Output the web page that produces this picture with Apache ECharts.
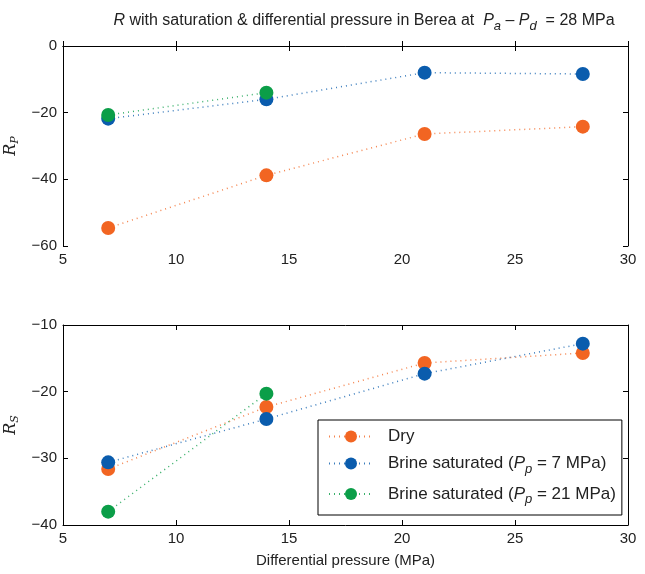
<!DOCTYPE html>
<html lang="en">
<head>
    <meta charset="UTF-8">
    <title>R with saturation & differential pressure in Berea</title>
    <script src="https://cdn.jsdelivr.net/npm/echarts@6/dist/echarts.min.js"></script>
    <style>
        html, body, #chart {
            width: 645px;
            height: 574px;
            padding: 0;
            margin: 0;
            background: #fff;
        }
    </style>
</head>
<body>
<div id="chart"></div>
<script>
    // differential pressure (MPa)
    var pressure = [7, 14, 21, 28];
    var pressureHigh = [7, 14];

    // R_P (top panel)
    var rpDry = [-54.6, -38.8, -26.4, -24.2];
    var rpBrine7 = [-21.8, -16.0, -8.0, -8.4];
    var rpBrine21 = [-20.7, -14.0];

    // R_S (bottom panel)
    var rsDry = [-31.6, -22.3, -15.7, -14.2];
    var rsBrine7 = [-30.6, -24.1, -17.3, -12.8];
    var rsBrine21 = [-38.0, -20.3];

    var names = ["Dry", "Brine saturated (Pp = 7 MPa)", "Brine saturated (Pp = 21 MPa)"];
    var colors = ["#f26522", "#0a5cad", "#0b9e48"];

    var font = "Liberation Sans";

    function pairs(xs, ys) {
        return xs.map(function (x, i) { return [x, ys[i]]; });
    }

    function minus(v) {
        return String(v).replace("-", "\u2212");
    }

    function makeSeries(name, idx, xs, ys, color) {
        return {
            name: name,
            type: "line",
            xAxisIndex: idx,
            yAxisIndex: idx,
            data: pairs(xs, ys),
            symbol: "circle",
            symbolSize: 14,
            color: color,
            itemStyle: {color: color},
            lineStyle: {color: color, width: 1.5, type: [1, 4], opacity: 0.8},
            emphasis: {disabled: true}
        };
    }

    var xBase = {
        type: "value",
        min: 5,
        max: 30,
        interval: 5,
        axisLine: {show: true, lineStyle: {color: "#000", width: 1}},
        axisTick: {show: true, inside: true, length: 5, lineStyle: {color: "#000"}},
        axisLabel: {color: "#222", fontFamily: font, fontSize: 15, margin: 6},
        splitLine: {show: false}
    };

    function xAxis(grid, withName) {
        var a = Object.assign({}, xBase, {gridIndex: grid});
        if (withName) {
            a.name = "Differential pressure (MPa)";
            a.nameLocation = "middle";
            a.nameGap = 28;
            a.nameTextStyle = {color: "#222", fontFamily: font, fontSize: 15};
        }
        return a;
    }

    function xAxisTop(grid) {
        return Object.assign({}, xBase, {gridIndex: grid, position: "top", axisLabel: {show: false}});
    }

    function yAxis(grid, min, max, interval, sub) {
        return {
            type: "value",
            gridIndex: grid,
            min: min,
            max: max,
            interval: interval,
            name: "{r|R}{s|" + sub + "}",
            nameLocation: "middle",
            nameGap: 38,
            nameRotate: 90,
            nameTextStyle: {
                rich: {
                    r: {fontFamily: "DejaVu Serif", fontStyle: "italic", fontSize: 16, color: "#222"},
                    s: {fontFamily: "DejaVu Serif", fontStyle: "italic", fontSize: 11, color: "#222", verticalAlign: "bottom", padding: [8, 0, 0, 0]}
                }
            },
            axisLine: {show: true, lineStyle: {color: "#000", width: 1}},
            axisTick: {show: true, inside: true, length: 5, lineStyle: {color: "#000"}},
            axisLabel: {color: "#222", fontFamily: font, fontSize: 15, margin: 6, formatter: minus},
            splitLine: {show: false}
        };
    }

    function yAxisRight(grid, min, max, interval) {
        return {
            type: "value",
            gridIndex: grid,
            position: "right",
            min: min,
            max: max,
            interval: interval,
            axisLine: {show: true, lineStyle: {color: "#000", width: 1}},
            axisTick: {show: true, inside: true, length: 5, lineStyle: {color: "#000"}},
            axisLabel: {show: false},
            splitLine: {show: false}
        };
    }

    var chart = echarts.init(document.getElementById("chart"), null, {renderer: "canvas"});

    chart.setOption({
        animation: false,
        backgroundColor: "#fff",
        title: {
            text: "{i|R}{n| with saturation & differential pressure in Berea at  }{i|P}{s|a}{n| \u2013 }{i|P}{s|d}{n|  = 28 MPa}",
            left: 359,
            top: 4,
            textAlign: "center",
            textStyle: {
                fontWeight: "normal",
                rich: {
                    n: {fontFamily: font, fontSize: 16, fontWeight: "normal", color: "#222"},
                    i: {fontFamily: font, fontSize: 16, fontWeight: "normal", fontStyle: "italic", color: "#222"},
                    s: {fontFamily: font, fontSize: 13, fontWeight: "normal", fontStyle: "italic", color: "#222", verticalAlign: "bottom", padding: [11, 0, 0, 0]}
                }
            }
        },
        legend: {
            data: names,
            orient: "vertical",
            left: 318,
            top: 420,
            padding: [8, 6, 9, 10],
            itemGap: 10,
            itemWidth: 44,
            itemHeight: 15,
            borderColor: "#000",
            borderWidth: 1,
            backgroundColor: "#fff",
            formatter: function (name) {
                if (name === "Dry") return "{n|Dry}";
                var p = name.indexOf("21") >= 0 ? "21" : "7";
                return "{n|Brine saturated (}{i|P}{s|p}{n| = " + p + " MPa)}";
            },
            textStyle: {
                padding: [0, 0, 0, 10],
                rich: {
                    n: {fontFamily: font, fontSize: 17, color: "#222"},
                    i: {fontFamily: font, fontSize: 17, fontStyle: "italic", color: "#222"},
                    s: {fontFamily: font, fontSize: 13, fontStyle: "italic", color: "#222", verticalAlign: "bottom", padding: [11, 0, 0, 0]}
                }
            }
        },
        grid: [
            {left: 63, right: 17, top: 46, height: 200, outerBoundsMode: "none"},
            {left: 63, right: 17, top: 325, height: 200, outerBoundsMode: "none"}
        ],
        xAxis: [xAxis(0, false), xAxis(1, true), xAxisTop(0), xAxisTop(1)],
        yAxis: [
            yAxis(0, -60, 0, 20, "P"),
            yAxis(1, -40, -10, 10, "S"),
            yAxisRight(0, -60, 0, 20),
            yAxisRight(1, -40, -10, 10)
        ],
        series: [
            makeSeries(names[0], 0, pressure, rpDry, colors[0]),
            makeSeries(names[1], 0, pressure, rpBrine7, colors[1]),
            makeSeries(names[2], 0, pressureHigh, rpBrine21, colors[2]),
            makeSeries(names[0], 1, pressure, rsDry, colors[0]),
            makeSeries(names[1], 1, pressure, rsBrine7, colors[1]),
            makeSeries(names[2], 1, pressureHigh, rsBrine21, colors[2])
        ]
    });
</script>
</body>
</html>
